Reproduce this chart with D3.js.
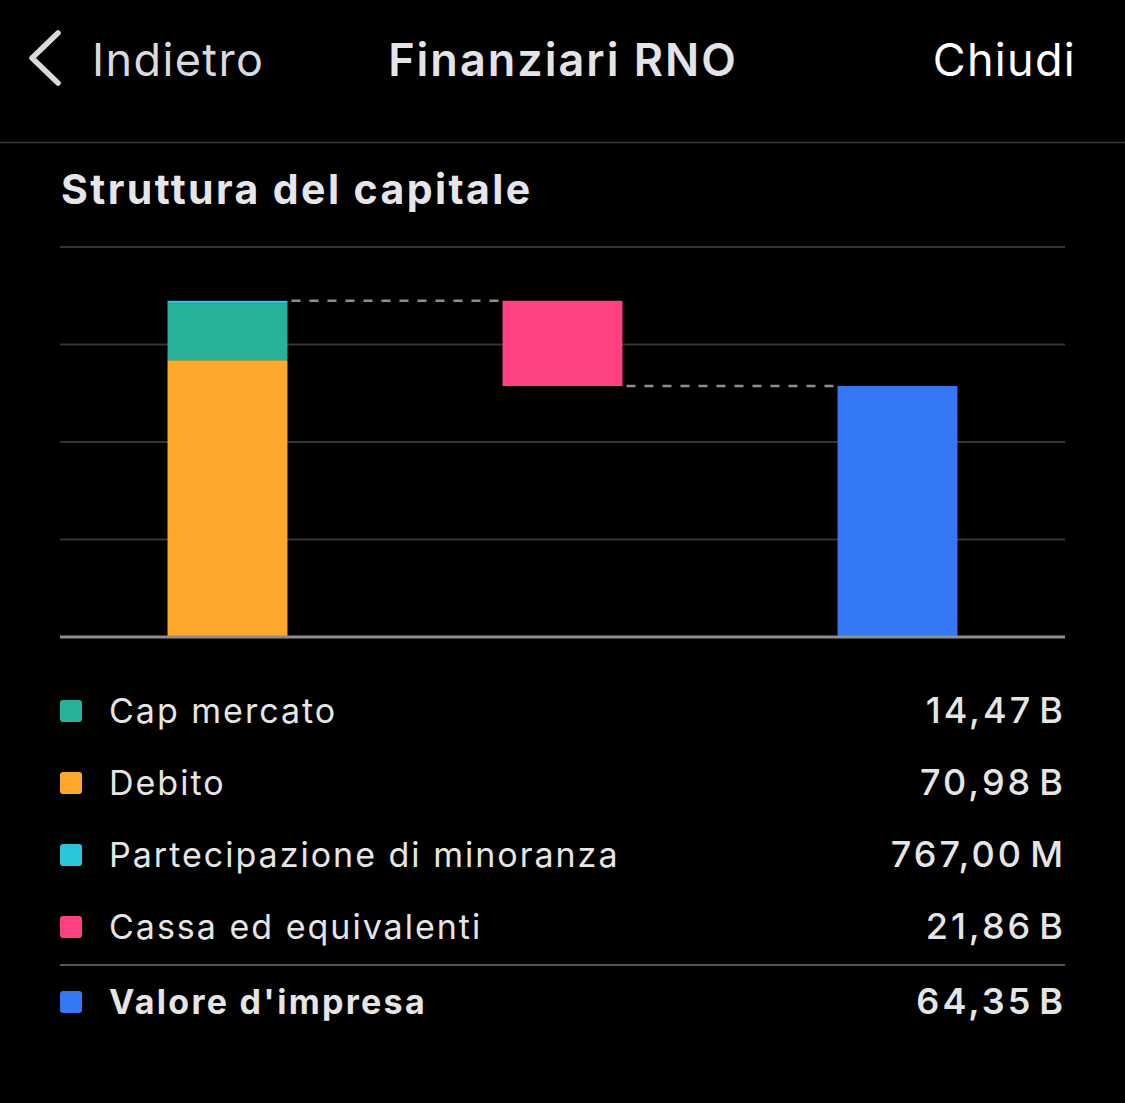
<!DOCTYPE html>
<html>
<head>
<meta charset="utf-8">
<script src="https://cdn.jsdelivr.net/npm/d3@7"></script>
<style>
  html, body { margin: 0; padding: 0; background: #000; }
  svg { display: block; font-family: Inter, "Noto Sans", sans-serif; }
</style>
</head>
<body>
<div id="chart"></div>
<script>
// values in billions
var columns = ["capitale", "cassa", "ev"];
var stackKeys = ["Debito", "Cap mercato", "Partecipazione di minoranza"];
var stackValues = [70.98, 14.47, 0.767];
var cashValue = 21.86;
var evValue = 64.35;
var yTicks = [25, 50, 75, 100];

var legendLabels = ["Cap mercato", "Debito", "Partecipazione di minoranza", "Cassa ed equivalenti"];
var legendValues = ["14,47\u200aB", "70,98\u200aB", "767,00\u200aM", "21,86\u200aB"];
var totalLabel = "Valore d'impresa";
var totalValue = "64,35\u200aB";

var colors = {
  "Cap mercato": "#26b39a",
  "Debito": "#ffa82b",
  "Partecipazione di minoranza": "#29c6dc",
  "Cassa ed equivalenti": "#ff4181",
  "Valore d'impresa": "#3478f6"
};

var W = 1125, H = 1103;
var margin = {left: 60, right: 60, top: 247, bottom: 637};

var svg = d3.select("#chart").append("svg")
    .attr("width", W)
    .attr("height", H);

svg.append("rect").attr("width", W).attr("height", H).attr("fill", "#000");

// header
svg.append("path")
    .attr("d", "M58,33 L32,58 L58,83")
    .attr("fill", "none")
    .attr("stroke", "#d9d9de")
    .attr("stroke-width", 5.5)
    .attr("stroke-linecap", "round")
    .attr("stroke-linejoin", "round");

svg.append("text")
    .text("Indietro")
    .attr("x", 92).attr("y", 76)
    .attr("font-size", 45)
    .attr("letter-spacing", 1.4)
    .attr("fill", "#d9d9de");

svg.append("text")
    .text("Finanziari RNO")
    .attr("x", 563).attr("y", 76)
    .attr("text-anchor", "middle")
    .attr("font-size", 45)
    .attr("font-weight", 600)
    .attr("letter-spacing", 2)
    .attr("fill", "#e3e3e8");

svg.append("text")
    .text("Chiudi")
    .attr("x", 1076).attr("y", 76)
    .attr("text-anchor", "end")
    .attr("font-size", 45)
    .attr("letter-spacing", 1.3)
    .attr("fill", "#fff");

svg.append("line")
    .attr("x1", 0).attr("x2", W)
    .attr("y1", 142.5).attr("y2", 142.5)
    .attr("stroke", "#3a3a3c")
    .attr("stroke-width", 1.5);

svg.append("text")
    .text("Struttura del capitale")
    .attr("x", 61).attr("y", 204)
    .attr("font-size", 41)
    .attr("font-weight", 700)
    .attr("letter-spacing", 2.4)
    .attr("fill", "#e5e5ea");

// scales
var x = d3.scaleBand()
    .domain(columns)
    .range([margin.left, W - margin.right])
    .paddingInner(0.642)
    .paddingOuter(0.321);

var y = d3.scaleLinear()
    .domain([0, 100])
    .range([margin.bottom, margin.top]);

// gridlines
svg.append("g")
  .selectAll("line")
  .data(yTicks)
  .join("line")
    .attr("x1", margin.left)
    .attr("x2", W - margin.right)
    .attr("y1", d => y(d))
    .attr("y2", d => y(d))
    .attr("stroke", "#353535")
    .attr("stroke-width", 2);

// stacked bar
var stackRow = {};
stackKeys.forEach(function(k, i) { stackRow[k] = stackValues[i]; });
var series = d3.stack().keys(stackKeys)([stackRow]);

svg.append("g")
  .selectAll("rect")
  .data(series)
  .join("rect")
    .attr("x", x("capitale"))
    .attr("width", x.bandwidth())
    .attr("y", d => y(d[0][1]))
    .attr("height", d => y(d[0][0]) - y(d[0][1]))
    .attr("fill", d => colors[d.key]);

var total = d3.sum(stackValues);

// cash bar (floating)
svg.append("rect")
    .attr("x", x("cassa"))
    .attr("width", x.bandwidth())
    .attr("y", y(total))
    .attr("height", y(total - cashValue) - y(total))
    .attr("fill", colors["Cassa ed equivalenti"]);

// EV bar
svg.append("rect")
    .attr("x", x("ev"))
    .attr("width", x.bandwidth())
    .attr("y", y(evValue))
    .attr("height", y(0) - y(evValue))
    .attr("fill", colors["Valore d'impresa"]);

// connectors
var connectors = [
  {from: "capitale", to: "cassa", v: total},
  {from: "cassa", to: "ev", v: total - cashValue}
];
svg.append("g")
  .selectAll("line")
  .data(connectors)
  .join("line")
    .attr("x1", d => x(d.from) + x.bandwidth())
    .attr("x2", d => x(d.to))
    .attr("y1", d => y(d.v))
    .attr("y2", d => y(d.v))
    .attr("stroke", "#8e8e8e")
    .attr("stroke-width", 2.5)
    .attr("stroke-dasharray", "9,9")
    .attr("stroke-dashoffset", -4);

// baseline
svg.append("line")
    .attr("x1", margin.left).attr("x2", W - margin.right)
    .attr("y1", y(0)).attr("y2", y(0))
    .attr("stroke", "#8e8e8e")
    .attr("stroke-width", 3);

// legend
var rowY = [711, 783, 855, 927];
var legend = svg.append("g");

var rows = legend.selectAll("g.row")
  .data(legendLabels)
  .join("g")
    .attr("class", "row")
    .attr("transform", (d, i) => "translate(0," + rowY[i] + ")");

rows.append("rect")
    .attr("x", 60).attr("y", -11)
    .attr("width", 22).attr("height", 22)
    .attr("rx", 3)
    .attr("fill", d => colors[d]);

rows.append("text")
    .text(d => d)
    .attr("x", 109).attr("y", 12)
    .attr("font-size", 34)
    .attr("letter-spacing", 2)
    .attr("fill", "#e5e5e5");

rows.append("text")
    .text((d, i) => legendValues[i])
    .attr("x", 1066).attr("y", 12)
    .attr("text-anchor", "end")
    .attr("font-size", 36)
    .attr("font-weight", 500)
    .attr("letter-spacing", 3)
    .attr("fill", "#e5e5e5");

legend.append("line")
    .attr("x1", 60).attr("x2", 1065)
    .attr("y1", 965).attr("y2", 965)
    .attr("stroke", "#555")
    .attr("stroke-width", 2);

var totalRow = legend.append("g").attr("transform", "translate(0,1002)");
totalRow.append("rect")
    .attr("x", 60).attr("y", -11)
    .attr("width", 22).attr("height", 22)
    .attr("rx", 3)
    .attr("fill", colors[totalLabel]);
totalRow.append("text")
    .text(totalLabel)
    .attr("x", 109).attr("y", 12)
    .attr("font-size", 34)
    .attr("font-weight", 700)
    .attr("letter-spacing", 2.3)
    .attr("fill", "#e5e5e5");
totalRow.append("text")
    .text(totalValue)
    .attr("x", 1066).attr("y", 12)
    .attr("text-anchor", "end")
    .attr("font-size", 36)
    .attr("font-weight", 600)
    .attr("letter-spacing", 3)
    .attr("fill", "#e5e5e5");
</script>
</body>
</html>
